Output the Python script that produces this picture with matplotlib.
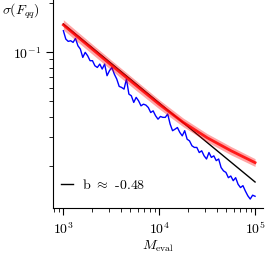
import numpy as np
import matplotlib
matplotlib.use('Agg')
import matplotlib.pyplot as plt

plt.rcParams['font.family'] = ['cmr10', 'DejaVu Serif']
plt.rcParams['mathtext.fontset'] = 'cm'
plt.rcParams['axes.formatter.use_mathtext'] = True
plt.rcParams['axes.unicode_minus'] = False
plt.rcParams['font.size'] = 10

# blue: single noisy run
sigma_run = [0.1345, 0.1196, 0.1157, 0.1168, 0.1141, 0.1207, 0.1088, 0.1038, 0.0923, 0.0991,
             0.0945, 0.0881, 0.0881, 0.0820, 0.0801, 0.0840, 0.0783, 0.0840, 0.0713, 0.0765,
             0.0801, 0.0729, 0.0680, 0.0613, 0.0604, 0.0590, 0.0680, 0.0550, 0.0537, 0.0489,
             0.0525, 0.0500, 0.0466, 0.0477, 0.0471, 0.0455, 0.0424, 0.0434, 0.0405, 0.0386,
             0.0401, 0.0396, 0.0396, 0.0415, 0.0360, 0.0328, 0.0335, 0.0343, 0.0320, 0.0305,
             0.0328, 0.0291, 0.0284, 0.0265, 0.0259, 0.0259, 0.0241, 0.0247, 0.0230, 0.0220,
             0.0241, 0.0225, 0.0230, 0.0215, 0.0220, 0.0195, 0.0186, 0.0182, 0.0169, 0.0173,
             0.0162, 0.0169, 0.0154, 0.0147, 0.0151, 0.0140, 0.0131, 0.0125, 0.0132, 0.0130]
M_run = np.logspace(3, 5, len(sigma_run))

# red: mean with spread
M_mean = [1000, 1778, 3162, 5623, 10000, 17783, 31623, 56234, 100000]
sigma_mean = [0.146, 0.110, 0.0828, 0.0627, 0.0476, 0.0369, 0.0297, 0.0247, 0.0209]
sigma_lo = [0.136, 0.1025, 0.0772, 0.0585, 0.0446, 0.0347, 0.0280, 0.0233, 0.0198]
sigma_hi = [0.157, 0.118, 0.0888, 0.0672, 0.0508, 0.0392, 0.0315, 0.0262, 0.0221]

# black: power law fit
M_fit = [1000, 100000]
sigma_fit = [0.148, 0.0159]
fit_label = 'b $\\approx$ -0.48'

fig = plt.figure(figsize=(2.67, 2.55), dpi=100)
ax = fig.add_axes([0.199, 0.18, 0.786, 0.82])

ax.plot(M_run, sigma_run, color='blue', lw=1.0, zorder=2)
ax.plot(M_fit, sigma_fit, color='black', lw=1.0, label=fit_label, zorder=3)
ax.fill_between(M_mean, sigma_lo, sigma_hi, color='red', alpha=0.35, lw=0, zorder=4)
ax.plot(M_mean, sigma_mean, color='red', lw=2.0, alpha=0.85, zorder=5)

ax.set_xscale('log')
ax.set_yscale('log')
ax.set_xlim(782, 121000)
ax.set_ylim(0.011, 0.2105)

for s in ['top', 'right']:
    ax.spines[s].set_visible(False)
ax.tick_params(which='major', length=5, width=0.8)
ax.tick_params(which='minor', length=3, width=0.6)

ax.set_xlabel('$M_{\\mathrm{eval}}$', labelpad=1)
fig.text(0.008, 0.995, '$\\sigma(F_{qq})$', ha='left', va='top')

ax.legend(loc='lower left', frameon=False, handlelength=0.8, handletextpad=0.7,
          bbox_to_anchor=(-0.02, 0.02))

fig.savefig('out.png', dpi=100)
